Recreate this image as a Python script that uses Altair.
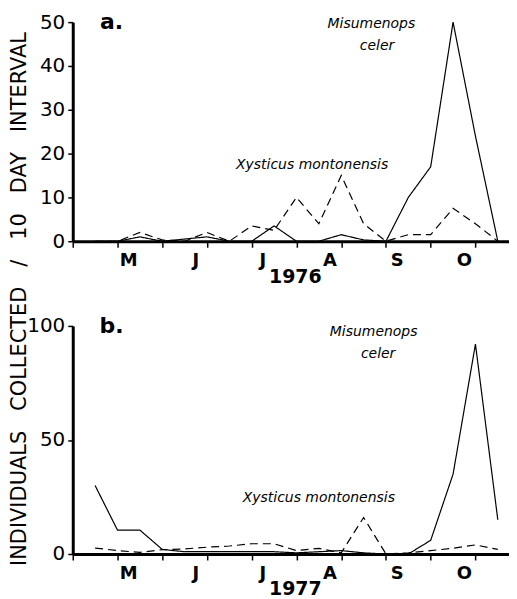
import altair as alt
import pandas as pd

# 10-day interval index (ticks), month label positions
idx = list(range(1, 20))
month_pos = [2.5, 5.5, 8.5, 11.5, 14.5, 17.5]
month_lab = ["M", "J", "J", "A", "S", "O"]
tick_vals = list(range(0, 20))

# 1976 (panel a)
mis_1976 = [0, 0, 1, 0, 0.5, 1, 0, 0, 3.5, 0, 0, 1.5, 0.3, 0, 10, 17, 50, 24, 0]
xys_1976 = [0, 0, 2, 0.3, 0, 2, 0, 3.5, 2.5, 10, 4, 15, 4, 0, 1.5, 1.5, 7.5, 4, 0]
# 1977 (panel b)
mis_1977 = [30, 10.5, 10.5, 2, 1, 1, 1, 1, 1, 0.5, 1, 1.5, 0.5, 0, 0, 6, 35, 92, 15]
xys_1977 = [2.6, 1.5, 0.7, 1.9, 2.2, 3, 3.5, 4.5, 4.5, 1.5, 2.5, 0.5, 16, 0, 0.5, 1.5, 2.5, 4, 2]

species = ["Misumenops celer", "Xysticus montonensis"]
y_title = "\u00a0\u00a0\u00a0".join(["INDIVIDUALS", "COLLECTED", "/", "10", "DAY", "INTERVAL"])

FONT = "DejaVu Sans"


def panel(mis, xys, ymax, yvals, h, year, letter, ann):
    df = pd.DataFrame({
        "idx": idx * 2,
        "val": mis + xys,
        "sp": [species[0]] * len(idx) + [species[1]] * len(idx),
    })
    x = alt.X(
        "idx:Q",
        scale=alt.Scale(domain=[0, 19.5], nice=False, zero=False),
        axis=alt.Axis(
            values=tick_vals, labels=False,
            tickSize=6, tickWidth=1.5, tickColor="black",
            domainWidth=3, domainColor="black", grid=False,
            title=year, titleFont=FONT, titleFontSize=19, titleFontWeight="bold",
            titleColor="black", titleX=223, titleY=35, titleBaseline="middle",
            titleAlign="center",
        ),
    )
    y = alt.Y(
        "val:Q",
        scale=alt.Scale(domain=[0, ymax], nice=False),
        axis=alt.Axis(
            values=yvals, title=None, grid=False,
            labelFontSize=20, labelFont=FONT, labelColor="black", labelPadding=3,
            tickSize=5, tickWidth=1.5, tickColor="black",
            domainWidth=3, domainColor="black",
        ),
    )
    lines = alt.Chart(df).mark_line(color="black", strokeWidth=1.2).encode(
        x=x, y=y,
        strokeDash=alt.StrokeDash(
            "sp:N",
            scale=alt.Scale(domain=species, range=[[1, 0], [8, 5]]),
            legend=None,
        ),
        detail="sp:N",
    )
    ann_df = pd.DataFrame(ann, columns=["idx", "val", "txt"])
    texts = alt.Chart(ann_df).mark_text(
        font=FONT, fontSize=14, fontStyle="italic", color="black",
        align="center", baseline="middle",
    ).encode(x="idx:Q", y="val:Q", text="txt:N")
    let_df = pd.DataFrame([letter], columns=["idx", "val", "txt"])
    let = alt.Chart(let_df).mark_text(
        font=FONT, fontSize=22, fontWeight="bold", color="black",
        align="center", baseline="middle",
    ).encode(x="idx:Q", y="val:Q", text="txt:N")
    mon_df = pd.DataFrame({"idx": month_pos, "txt": month_lab})
    months = alt.Chart(mon_df).mark_text(
        font=FONT, fontSize=18, fontWeight="bold", color="black",
        align="center", baseline="middle",
    ).encode(x="idx:Q", y=alt.value(h + 20), text="txt:N")
    return alt.layer(lines, texts, let, months).properties(width=438, height=h)


top = panel(
    mis_1976, xys_1976, 50, [0, 10, 20, 30, 40, 50], 220, "1976",
    (1.73, 50, "a."),
    [(13.35, 49.5, "Misumenops"), (13.6, 44.5, "celer"), (10.7, 17.3, "Xysticus  montonensis")],
)
bottom = panel(
    mis_1977, xys_1977, 100, [0, 50, 100], 229, "1977",
    (1.73, 100, "b."),
    [(13.45, 97.4, "Misumenops"), (13.65, 87.8, "celer"), (11.0, 24.5, "Xysticus  montonensis")],
)

title_df = pd.DataFrame({"t": [y_title]})
title_chart = alt.Chart(title_df).mark_text(
    angle=270, fontSize=21, font=FONT, color="black", align="center", baseline="middle"
).encode(text="t:N", x=alt.value(12), y=alt.value(278)).properties(width=24, height=534)

chart = alt.hconcat(
    title_chart,
    alt.vconcat(top, bottom, spacing=85, bounds="flush"),
    spacing=41,
    bounds="flush",
).properties(padding={"left": 0, "top": 2, "right": 0, "bottom": 0}).configure_view(stroke=None)

chart.save("out.html", embed_options={"renderer": "svg", "actions": False})
